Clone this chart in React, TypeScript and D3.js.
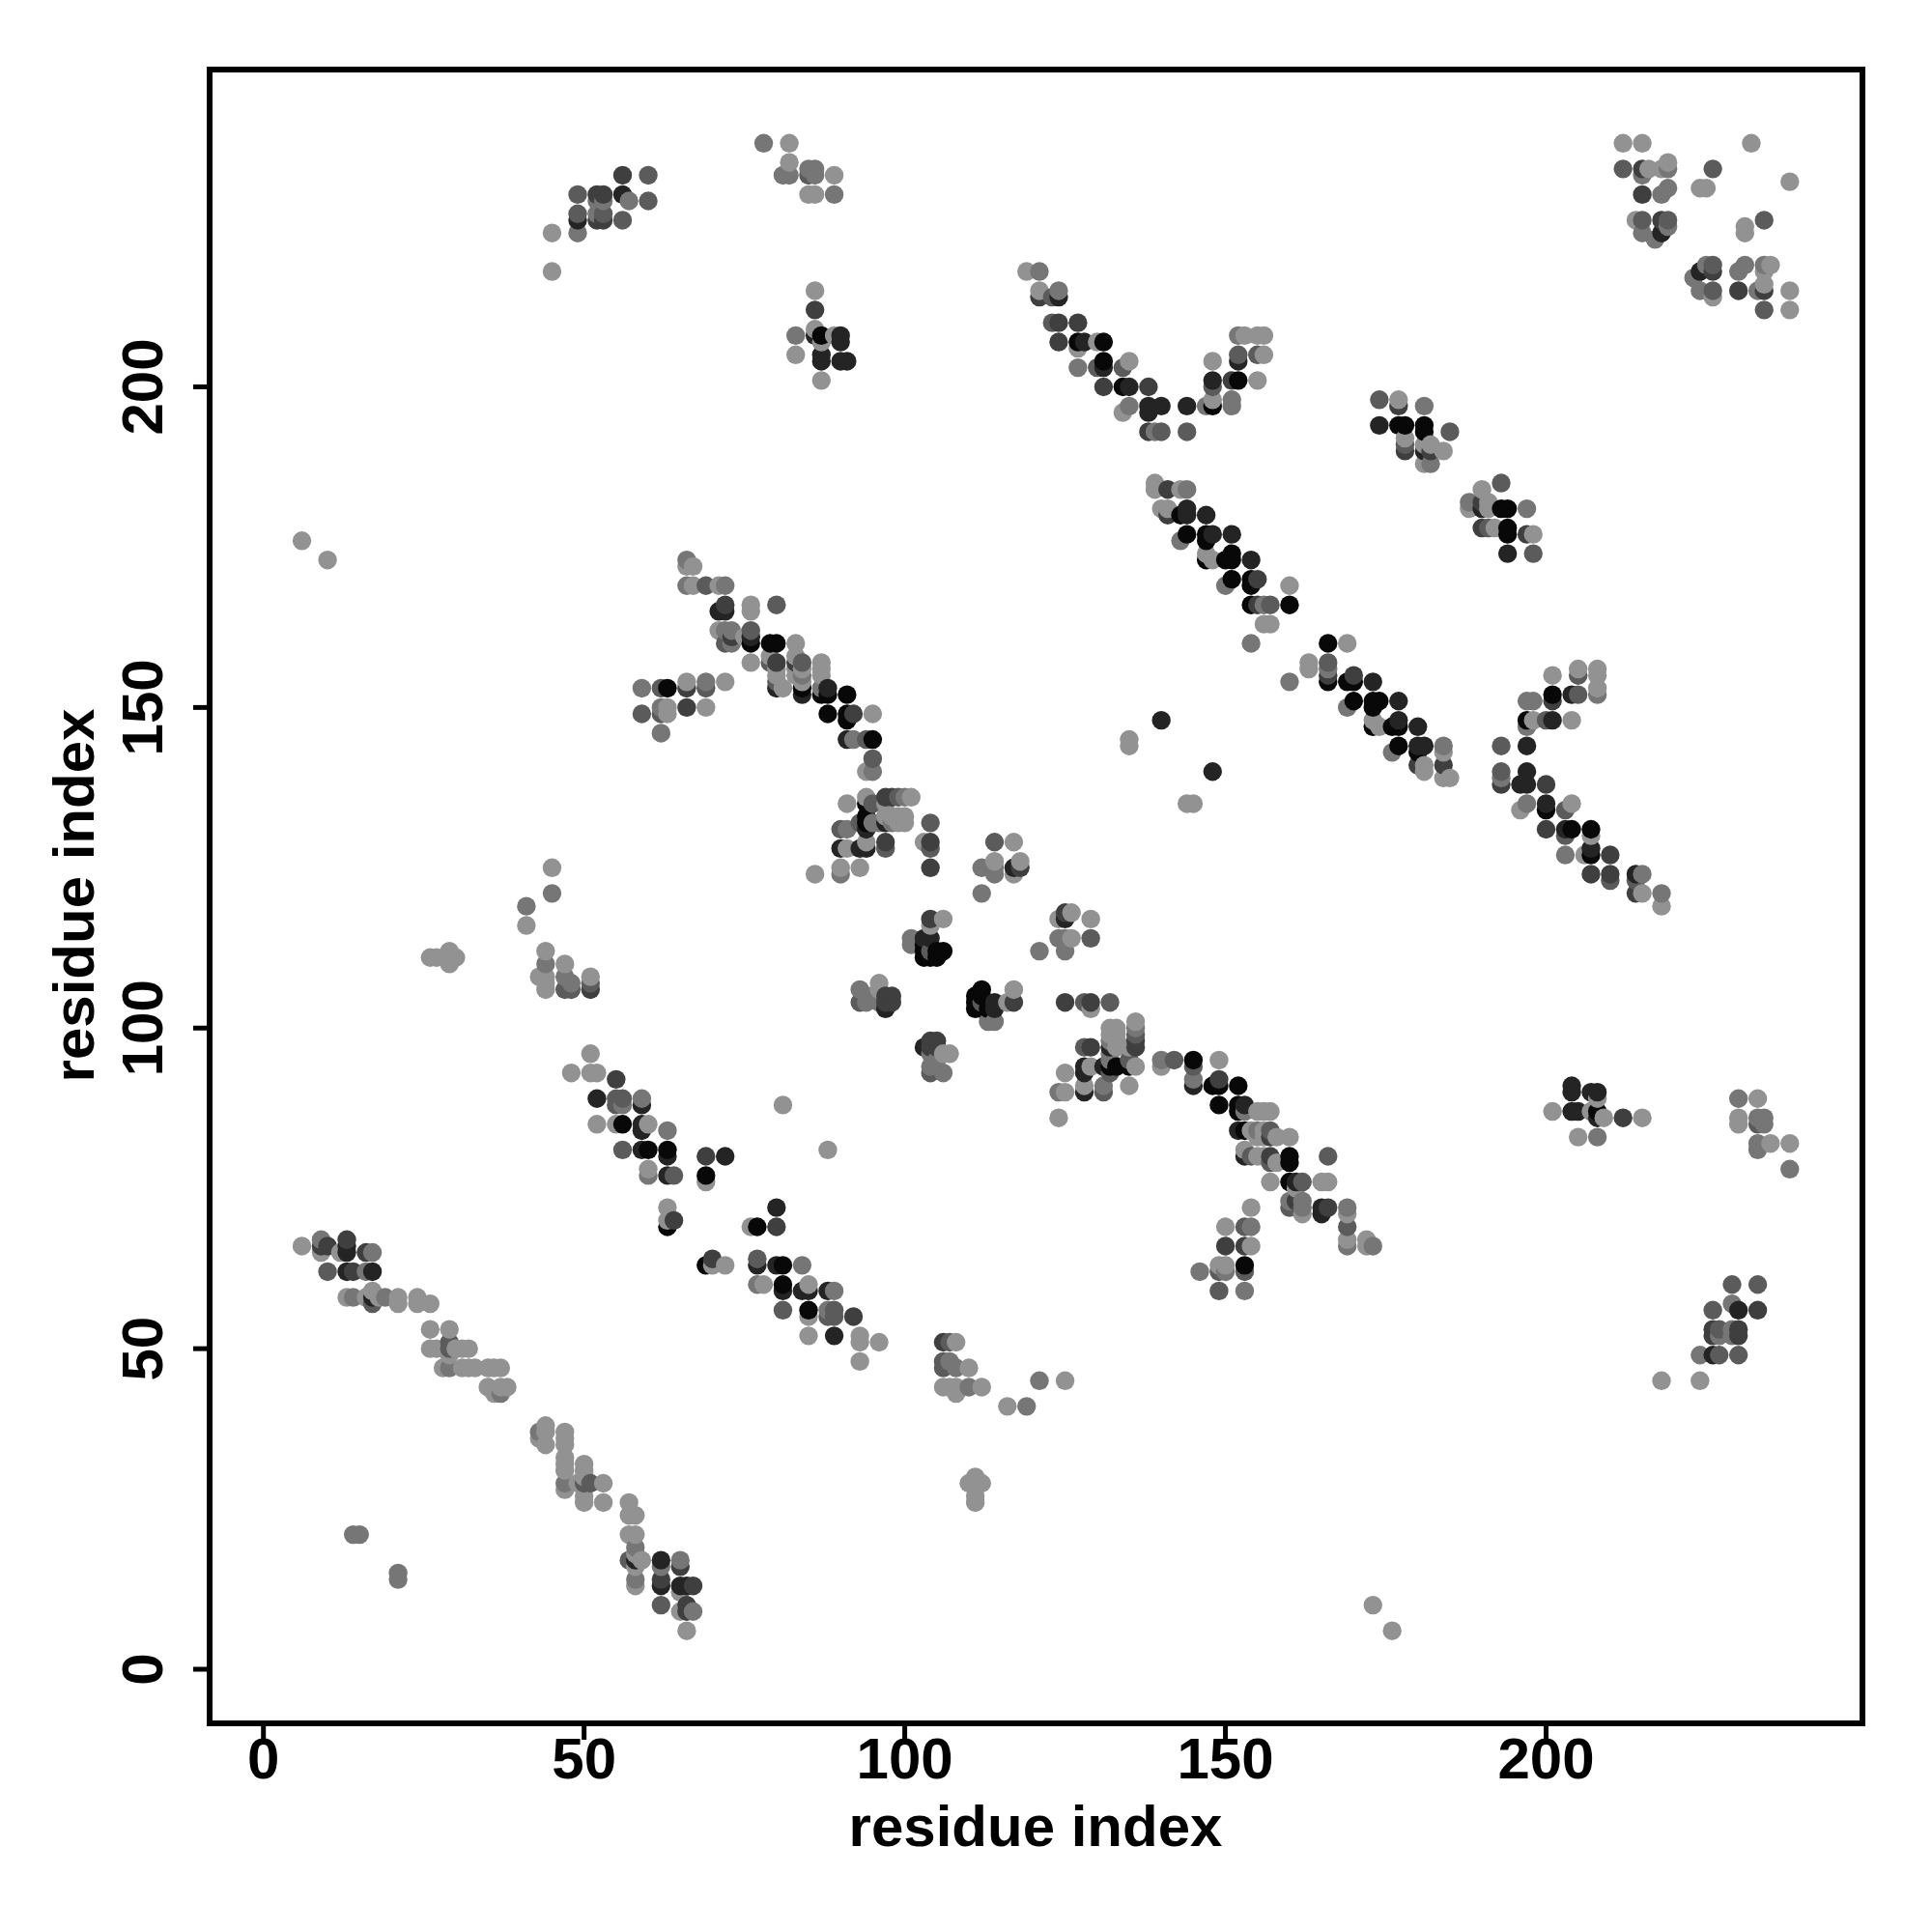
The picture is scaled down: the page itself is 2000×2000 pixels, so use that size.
import React from "react";
import * as d3 from "d3";

type C = [number, number, number];

const xTicks = [0, 50, 100, 150, 200];
const yTicks = [0, 50, 100, 150, 200];
const axisLabel = "residue index";

const bandA: C[] = [
  [6,66,1],[9,67,2],[9,66,4],[9,65,1],[10,66,4],[10,62,3],[12,65,1],[13,67,4],[13,66,5],[13,65,5],[13,62,5],[14,62,4],[16,65,4],[17,65,2],[16,62,2],[17,62,5],
  [13,58,1],[14,58,2],[16,58,1],[17,59,1],[17,58,5],[17,57,3],[18,58,1],[19,58,2],[21,58,1],[21,57,1],[24,58,1],[24,57,1],[26,57,1],
  [26,53,1],[29,53,1],[26,50,1],[27,50,1],[29,51,3],[29,50,3],[29,49,1],[31,50,1],[32,50,1],
  [28,47,1],[29,47,2],[31,47,1],[32,47,1],[33,47,1],[35,47,1],[36,47,1],[35,44,1],[36,43,1],[37,43,2],[37,44,1],[38,44,1],
  [43,37,2],[43,36,1],[44,38,1],[44,35,1],[47,37,1],[47,35,1],[47,33,1],[47,32,1],[47,31,1],[47,29,2],[47,28,1],
  [50,32,1],[50,30,1],[50,29,2],[50,27,1],[50,26,1],[51,29,2],[53,29,1],[53,26,1],
  [57,26,1],[57,24,1],[58,24,1],[57,21,1],[58,21,1],[58,19,1],[57,17,1],[58,17,5],[58,16,1],[59,17,1],[58,14,2],[58,13,2],
  [62,17,5],[62,16,2],[62,14,4],[62,13,5],[62,10,3],[65,17,3],[65,16,4],[65,13,5],[66,13,5],[65,9,2],[66,10,4],[66,9,4],[67,9,2],[66,6,1],
  [21,15,2],[21,14,2],[6,176,1],[10,173,1],
];

const bandB: C[] = [
  [51,96,1],[48,93,1],[51,93,1],[52,93,1],[55,92,4],[52,89,5],[55,89,3],[56,89,3],[56,88,2],[55,88,3],[59,89,2],[59,88,5],
  [52,85,1],[55,85,1],[56,85,6],[59,85,5],[59,84,5],[60,85,1],[63,84,2],[56,81,3],[59,81,5],[60,81,6],[63,81,6],[63,80,5],
  [60,78,1],[60,77,2],[63,77,5],[64,77,3],[69,80,4],[72,80,5],[69,77,6],[69,76,1],[63,72,1],[63,70,1],[64,70,4],[63,69,6],
  [80,72,5],[80,69,4],[77,69,6],[76,69,1],[69,63,6],[70,64,4],[70,63,1],[72,63,1],[77,64,3],[77,63,5],[80,63,5],[81,63,6],[84,63,2],
  [77,60,1],[78,60,1],[81,60,6],[81,59,5],[84,59,4],[85,60,2],[85,59,5],[88,59,5],[89,59,2],
  [81,56,3],[85,56,6],[85,55,2],[88,56,1],[89,56,3],[89,55,4],[92,55,4],[85,52,1],[89,52,5],[93,52,1],[93,51,1],[96,51,1],[93,48,1],
  [81,88,1],[88,81,1],
];

const sparseLow: C[] = [
  [106,51,4],[107,51,3],[108,51,1],[106,48,3],[106,47,3],[107,48,2],[108,47,2],[110,47,1],[106,44,1],[107,44,1],[108,44,1],[108,43,1],[110,44,2],[112,44,1],
  [116,41,1],[119,41,2],[121,45,2],[125,45,1],[110,29,1],[111,30,1],[112,29,1],[111,29,1],[111,27,1],[111,26,1],[218,45,1],[224,45,1],
];

const centre: C[] = [
  [103,97,5],[104,98,4],[105,98,4],[104,97,4],[105,97,4],[104,96,2],[106,96,1],[107,96,1],[105,95,2],[104,94,2],[104,93,3],[106,93,2],
  [112,106,6],[111,105,6],[111,104,6],[111,103,6],[112,105,6],[112,104,3],[112,103,6],[113,103,6],[114,104,5],[114,103,5],[116,104,1],[117,106,1],[117,104,4],[113,101,2],[114,101,2],
  [124,117,1],[125,118,4],[126,118,1],[125,117,5],[129,117,1],[124,114,2],[125,114,2],[126,114,1],[129,114,3],[121,112,2],[125,112,2],
  [125,104,4],[128,104,3],[129,104,4],[129,103,1],[132,104,3],
  [136,101,1],[136,100,2],[136,99,3],[136,98,4],[136,97,4],[132,100,1],[133,100,1],[132,99,1],[133,99,1],[132,98,2],[132,97,5],[133,97,1],[128,97,3],[129,97,4],[135,97,1],
  [125,93,1],[128,94,5],[128,93,5],[129,94,1],[131,94,5],[132,95,2],[132,94,6],[132,93,3],[135,95,3],[135,94,6],[136,94,1],[135,91,1],
  [124,90,2],[125,90,1],[128,91,1],[128,90,5],[131,91,2],[131,90,3],[124,86,1],
];

const arcLow: C[] = [
  [140,95,2],[140,94,1],[142,95,3],[145,95,6],[145,94,3],[145,92,2],[145,91,5],[149,95,1],[148,91,6],[149,92,4],[149,91,6],[152,91,6],
  [149,88,6],[152,88,6],[152,87,6],[153,88,5],[153,87,2],[155,87,1],[156,87,1],[157,87,1],
  [152,84,5],[153,84,6],[154,84,1],[155,84,2],[156,84,1],[157,84,3],[157,83,4],[155,83,1],[158,83,1],[160,83,1],
  [153,81,1],[153,80,5],[154,80,3],[155,80,1],[156,80,1],[157,80,4],[158,79,1],[160,80,6],[160,79,6],[166,80,3],
  [157,76,1],[160,76,6],[161,76,5],[162,76,3],[165,76,1],[166,76,1],[160,73,2],[160,72,3],[161,73,4],[162,73,2],[162,72,2],[162,71,1],[165,72,5],[165,71,5],[166,72,4],
  [169,72,2],[169,71,1],[169,69,3],[169,67,1],[169,66,2],[172,67,1],[172,66,1],[173,66,2],
  [154,72,1],[150,69,1],[153,69,3],[154,69,2],[150,66,4],[153,66,4],[154,66,1],[153,63,6],[153,62,3],[149,63,1],[150,63,1],[149,62,3],[150,62,2],[146,62,2],[149,59,3],[153,59,2],
];

const arcHigh: C[] = [
  [66,173,2],[66,172,1],[67,172,1],[66,169,3],[67,169,1],[69,169,3],[71,169,1],[72,169,2],[72,166,4],[71,165,5],[72,165,5],[76,166,1],[76,165,1],[80,166,2],
  [71,162,1],[72,162,2],[73,162,2],[72,160,3],[73,160,1],[75,161,1],[76,162,3],[76,161,5],[76,160,6],[76,157,1],[79,160,6],[80,160,5],[83,160,1],
  [79,157,3],[80,157,4],[83,158,1],[84,157,2],[83,156,1],[84,156,1],[83,155,1],[84,155,1],[87,157,1],[87,156,1],
  [80,154,1],[80,153,5],[81,153,1],[84,154,1],[84,153,2],[84,152,6],[87,153,2],[87,152,6],[88,153,5],[88,152,5],[91,152,6],
  [88,149,6],[91,149,6],[91,148,6],[92,149,4],[95,149,1],[91,145,6],[92,145,2],[94,145,3],[95,145,6],[95,142,3],[94,140,1],[95,140,2],
  [59,153,2],[62,153,2],[63,153,6],[66,154,1],[66,153,4],[69,154,2],[69,153,2],[72,154,1],[59,149,2],[62,150,1],[63,150,1],[62,149,3],[63,149,1],[66,150,4],[69,150,1],[62,146,1],
  [91,135,1],[94,136,2],[94,135,6],[95,135,3],[97,136,3],[98,136,4],[99,136,3],[100,136,2],[101,136,1],
  [97,133,1],[98,133,1],[99,133,1],[100,133,1],[97,132,6],[98,132,1],[100,132,1],[96,132,2],[94,133,6],[93,132,4],[94,132,5],[94,131,5],
  [90,131,3],[91,131,1],[104,132,3],[103,129,1],[104,129,4],[104,128,4],[104,125,4],
  [90,128,6],[91,128,1],[93,128,6],[94,128,5],[94,129,1],[97,129,4],[97,128,3],[86,124,1],[90,125,1],[90,124,2],[93,125,1],
];

const longBand: C[] = [
  [139,185,1],[139,184,1],[141,184,4],[143,184,1],[144,184,2],[140,181,1],[141,181,1],[141,180,4],[143,180,6],[144,181,5],[144,180,5],[147,180,5],
  [144,177,6],[143,176,2],[147,177,6],[147,176,6],[148,177,5],[151,177,5],[147,174,1],[147,173,6],[148,173,1],[150,173,6],[151,174,6],[151,173,6],[154,173,5],
  [151,170,6],[150,169,2],[154,170,6],[154,169,6],[155,170,4],[160,169,1],[154,166,6],[155,166,4],[156,166,2],[157,166,3],[160,166,6],[156,163,1],[157,163,1],[154,160,2],
  [166,160,6],[169,160,1],[163,157,1],[163,156,1],[166,157,3],[166,156,2],[166,155,3],[166,154,6],[160,154,2],[169,154,6],[170,155,4],[170,154,6],[173,154,5],
  [170,151,6],[169,150,2],[173,151,6],[173,150,6],[174,151,5],[177,151,5],[173,148,1],[173,147,6],[174,147,1],[176,147,6],[177,148,5],[177,147,6],[180,147,5],
  [177,144,6],[176,143,2],[180,144,6],[180,143,6],[181,144,4],[184,144,2],[184,143,1],[180,141,4],[181,141,1],[181,140,1],[184,141,4],[184,139,1],[185,139,1],
  [140,148,5],[135,145,1],[135,144,1],
];

const branch: C[] = [
  [193,144,3],[197,144,5],[193,140,3],[193,139,2],[193,138,4],[197,140,5],[196,138,5],[197,138,5],[200,138,4],[196,134,1],[197,135,2],[200,135,5],[200,134,6],[203,134,3],[204,135,1],
  [200,131,4],[203,131,5],[204,131,6],[203,130,3],[207,131,6],[207,130,1],[203,127,2],[206,127,1],[207,128,5],[207,127,6],[210,127,4],[207,124,4],[210,124,4],[210,123,3],
  [214,124,5],[214,123,3],[215,124,2],[214,121,4],[215,121,1],[218,121,2],[218,119,1],
  [201,155,1],[205,156,1],[205,155,3],[208,156,1],[208,155,1],[208,153,1],[208,152,2],[197,151,2],[198,151,2],[201,152,6],[201,151,4],[204,152,5],[205,152,3],
  [197,148,6],[197,147,2],[198,148,1],[200,148,3],[201,148,5],[204,148,1],
];

const hairpin: C[] = [
  [174,198,3],[177,198,1],[177,197,4],[181,197,2],[185,193,3],[174,194,5],[177,194,6],[178,194,6],[181,194,6],[181,193,6],
  [178,192,1],[178,191,3],[178,190,4],[181,191,1],[182,191,1],[181,190,5],[182,190,4],[184,190,1],[181,188,1],[182,188,2],
];

const farClusters: C[] = [
  [56,233,4],[60,233,3],[49,230,3],[52,230,4],[53,230,4],[56,230,5],[57,229,2],[60,229,3],[52,229,2],[53,229,2],[49,227,3],[49,226,5],[49,224,2],[52,227,2],[52,226,4],[53,227,3],[53,226,4],[56,226,3],[45,224,1],[45,218,1],
  [78,238,2],[82,238,1],[82,235,1],[81,233,2],[82,233,2],[85,234,2],[86,234,2],[85,233,3],[86,233,2],[89,233,1],[85,230,1],[86,230,1],[89,230,2],
  [86,215,1],[86,212,4],[86,209,1],[86,208,5],[83,208,2],[83,205,1],[87,208,6],[87,207,1],[87,205,5],[87,204,5],[87,201,1],[89,208,1],[90,208,5],[90,207,5],[90,204,5],[91,204,5],
];

const cTerminal: C[] = [
  [212,238,1],[215,238,1],[232,238,1],[212,234,3],[215,234,4],[216,234,1],[215,233,2],[218,234,1],[219,235,1],[219,234,2],[226,234,3],[224,231,1],[225,231,1],[215,230,4],[218,230,2],[219,231,2],
  [214,226,1],[215,226,3],[218,226,4],[219,226,3],[219,225,2],[215,224,2],[218,224,5],[217,223,2],
];

const groups = [bandA, bandB, sparseLow, centre, arcLow, arcHigh, longBand, branch, hairpin, farClusters, cTerminal];

export default function App() {
  const x = d3.scaleLinear().domain([0, 200]).range([272.7, 1600.5]);
  const y = d3.scaleLinear().domain([0, 200]).range([1728, 400.5]);
  const gray = d3.scaleLinear().domain([1, 6]).range([146, 8]);

  const byKey = new Map<string, C>();
  for (const g of groups) {
    for (const [i, j, s] of g) {
      for (const p of [[i, j, s], [j, i, s]] as C[]) {
        const k = p[0] + "," + p[1];
        if (!byKey.has(k)) byKey.set(k, p);
      }
    }
  }
  const pts = Array.from(byKey.values()).sort(
    (a, b) => d3.ascending(a[0], b[0]) || d3.ascending(a[1], b[1])
  );

  const box = { left: 217, right: 1928, top: 72, bottom: 1784 };
  const font = "'Liberation Sans', Arial, sans-serif";

  return (
    <svg
      width={2000}
      height={2000}
      style={{ position: "absolute", left: 0, top: 0, background: "#fff" }}
    >
      {pts.map((p, n) => {
        const g = Math.round(gray(p[2]));
        return <circle key={n} cx={x(p[0])} cy={y(p[1])} r={9.7} fill={`rgb(${g},${g},${g})`} />;
      })}
      <rect
        x={box.left}
        y={box.top}
        width={box.right - box.left}
        height={box.bottom - box.top}
        fill="none"
        stroke="#000"
        strokeWidth={6}
      />
      {xTicks.map((t) => (
        <g key={t}>
          <line x1={x(t)} x2={x(t)} y1={box.bottom} y2={box.bottom + 17} stroke="#000" strokeWidth={5} />
          <text x={x(t)} y={1841} textAnchor="middle" fontFamily={font} fontWeight="bold" fontSize={60}>
            {t}
          </text>
        </g>
      ))}
      {yTicks.map((t) => (
        <g key={t}>
          <line x1={box.left} x2={box.left - 17} y1={y(t)} y2={y(t)} stroke="#000" strokeWidth={5} />
          <text
            transform={`translate(168,${y(t)}) rotate(-90)`}
            textAnchor="middle"
            fontFamily={font}
            fontWeight="bold"
            fontSize={60}
          >
            {t}
          </text>
        </g>
      ))}
      <text x={1072} y={1911} textAnchor="middle" fontFamily={font} fontWeight="bold" fontSize={60}>
        {axisLabel}
      </text>
      <text
        transform="translate(97,927) rotate(-90)"
        textAnchor="middle"
        fontFamily={font}
        fontWeight="bold"
        fontSize={60}
      >
        {axisLabel}
      </text>
    </svg>
  );
}
